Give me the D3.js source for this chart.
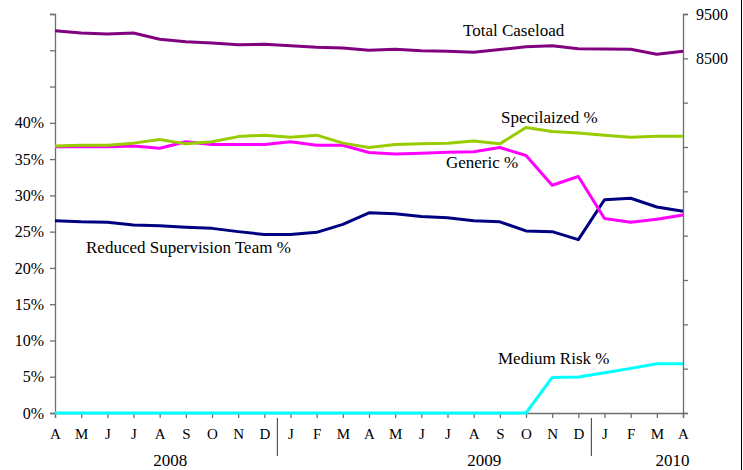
<!DOCTYPE html>
<html>
<head>
<meta charset="utf-8">
<script src="https://cdn.jsdelivr.net/npm/d3@7"></script>
<style>
  body { margin: 0; background: #fff; }
</style>
</head>
<body>
<div id="chart"></div>
<script>
// months Apr 2008 .. Apr 2010
var months = ["A","M","J","J","A","S","O","N","D","J","F","M","A","M","J","J","A","S","O","N","D","J","F","M","A"];
var years = ["2008", "2009", "2010"];
var yearStart = [0, 9, 21];          // first month index of each year
var yearLabelAt = [4.4, 16.4, 23.6];  // where excel put the year text (month index)

var totalCaseload = [9123,9071,9049,9071,8929,8875,8845,8807,8816,8784,8748,8733,8681,8703,8672,8658,8635,8699,8762,8784,8717,8710,8703,8590,8658];
var specialized   = [36.8,36.9,36.9,37.2,37.7,37.1,37.4,38.1,38.3,38.0,38.3,37.2,36.6,37.0,37.1,37.2,37.5,37.1,39.35,38.8,38.6,38.3,38.0,38.15,38.15];
var generic       = [36.7,36.7,36.7,36.8,36.5,37.4,37.0,37.0,37.0,37.4,36.9,36.9,35.9,35.7,35.8,35.95,36.0,36.6,35.5,31.4,32.6,26.8,26.3,26.7,27.3];
var reducedSup    = [26.5,26.35,26.3,25.9,25.8,25.6,25.45,25.0,24.6,24.6,24.9,26.0,27.6,27.45,27.1,26.9,26.5,26.35,25.1,25.0,23.9,29.4,29.6,28.4,27.8];
var mediumRisk    = [0,0,0,0,0,0,0,0,0,0,0,0,0,0,0,0,0,0,0,4.9,4.95,5.55,6.15,6.8,6.8];

var pctTicks = [0,5,10,15,20,25,30,35,40,45,50,55];
var pctLabels = [0,5,10,15,20,25,30,35,40];
var cntTicks = [500,1500,2500,3500,4500,5500,6500,7500,8500,9500];
var cntLabels = [8500,9500];

var W = 743, H = 470;
var mLeft = 55, mRight = 683, mTop = 14, mBottom = 413;
var FONT = "'Liberation Serif', 'Times New Roman', 'DejaVu Serif', serif";

var svg = d3.select("#chart").append("svg")
    .attr("width", W)
    .attr("height", H)
    .attr("font-family", FONT);

var x = d3.scaleLinear().domain([0, months.length - 1]).range([mLeft, mRight]);
var y = d3.scaleLinear().domain([0, 55]).range([mBottom, mTop]);
var y2 = d3.scaleLinear().domain([500, 9500]).range([mBottom, mTop]);

// left axis
var yAxis = d3.axisLeft(y)
  .tickValues(pctTicks)
  .tickSize(5)
  .tickPadding(6)
  .tickFormat(function(d){ return pctLabels.indexOf(d) >= 0 ? d + "%" : ""; });
var gy = svg.append("g").attr("transform", "translate(" + mLeft + ",0)").call(yAxis);
gy.selectAll("text").style("font-size", "16px");

// right axis
var y2Axis = d3.axisRight(y2)
  .tickValues(cntTicks)
  .tickSize(5)
  .tickPadding(8)
  .tickFormat(function(d){ return cntLabels.indexOf(d) >= 0 ? d : ""; });
var gy2 = svg.append("g").attr("transform", "translate(" + mRight + ",0)").call(y2Axis);
gy2.selectAll("text").style("font-size", "16px");

// bottom axis
var xAxis = d3.axisBottom(x)
  .tickValues(d3.range(months.length))
  .tickSize(5)
  .tickPadding(10)
  .tickFormat(function(d){ return months[d]; });
var gx = svg.append("g").attr("transform", "translate(0," + mBottom + ")").call(xAxis);
gx.selectAll("text").style("font-size", "15px");

svg.selectAll("g").attr("font-family", FONT);
svg.selectAll(".domain, .tick line").attr("stroke", "#6e6e6e").attr("stroke-width", 1.3);

// year separators
svg.selectAll(".yearsep")
  .data(yearStart.slice(1))
  .enter().append("line")
    .attr("x1", function(d){ return x(d - 0.5); })
    .attr("x2", function(d){ return x(d - 0.5); })
    .attr("y1", mBottom + 5)
    .attr("y2", mBottom + 43)
    .attr("stroke", "#555")
    .attr("stroke-width", 1.2);

svg.selectAll(".year")
  .data(years)
  .enter().append("text")
    .attr("x", function(d, i){ return x(yearLabelAt[i]); })
    .attr("y", 466)
    .attr("text-anchor", "middle")
    .style("font-size", "17px")
    .text(function(d){ return d; });

// lines
var pctLine = d3.line().x(function(d, i){ return x(i); }).y(function(d){ return y(d); });
var cntLine = d3.line().x(function(d, i){ return x(i); }).y(function(d){ return y2(d); });

var series = [
  {data: mediumRisk, color: "#00ffff"},
  {data: reducedSup, color: "#000080"},
  {data: generic,    color: "#ff00ff"},
  {data: specialized, color: "#99cc00"}
];

svg.selectAll(".pline")
  .data(series)
  .enter().append("path")
    .attr("d", function(d){ return pctLine(d.data); })
    .attr("fill", "none")
    .attr("stroke", function(d){ return d.color; })
    .attr("stroke-width", 3)
    .attr("stroke-linejoin", "round");

svg.append("path")
  .attr("d", cntLine(totalCaseload))
  .attr("fill", "none")
  .attr("stroke", "#800080")
  .attr("stroke-width", 3)
  .attr("stroke-linejoin", "round");

// series labels
var labels = [
  {t: "Total Caseload", x: 463, y: 36},
  {t: "Specilaized %", x: 501, y: 123},
  {t: "Generic %", x: 446, y: 168},
  {t: "Reduced Supervision Team %", x: 86, y: 253},
  {t: "Medium Risk %", x: 498, y: 364}
];
svg.selectAll(".lbl")
  .data(labels)
  .enter().append("text")
    .attr("x", function(d){ return d.x; })
    .attr("y", function(d){ return d.y; })
    .style("font-size", "17px")
    .text(function(d){ return d.t; });

svg.selectAll("text").style("font-family", FONT).attr("fill", "#000");

// chart frame edge on the right
svg.append("line")
  .attr("x1", 741.5).attr("x2", 741.5)
  .attr("y1", 0).attr("y2", H)
  .attr("stroke", "#000")
  .attr("stroke-width", 1);
</script>
</body>
</html>
